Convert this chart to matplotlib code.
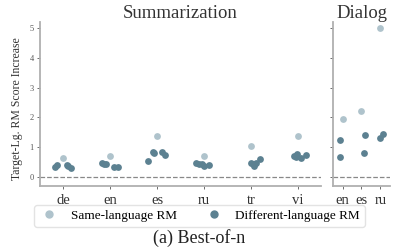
import matplotlib
matplotlib.use("Agg")
import matplotlib.pyplot as plt
from matplotlib.lines import Line2D

plt.rcParams['font.family'] = ['Liberation Serif', 'DejaVu Serif']

# Summarization
sum_langs = ['de', 'en', 'es', 'ru', 'tr', 'vi']
sum_same = [0.64, 0.70, 1.39, 0.70, 1.04, 1.38]
sum_diff = [
    [0.35, 0.40, 0.40, 0.37, 0.29],
    [0.46, 0.45, 0.43, 0.33, 0.33],
    [0.54, 0.85, 0.80, 0.83, 0.74],
    [0.46, 0.44, 0.44, 0.37, 0.40],
    [0.48, 0.44, 0.37, 0.48, 0.59],
    [0.70, 0.66, 0.77, 0.65, 0.74],
]
# Dialog
dia_langs = ['en', 'es', 'ru']
dia_same = [1.95, 2.21, 5.01]
dia_diff = [
    [1.24, 0.66],
    [1.40, 0.79],
    [1.32, 1.44],
]

# horizontal jitter of the different-language points
sum_jit = [
    [-0.17, -0.13, 0.08, 0.11, 0.17],
    [-0.18, -0.13, -0.09, 0.07, 0.16],
    [-0.19, -0.08, -0.06, 0.11, 0.16],
    [-0.16, -0.10, -0.05, 0.00, 0.10],
    [0.00, 0.04, 0.07, 0.12, 0.20],
    [-0.08, -0.04, -0.02, 0.06, 0.18],
]
dia_jit = [
    [-0.16, -0.12],
    [0.17, 0.14],
    [0.00, 0.14],
]

light = '#afc3cc'
dark = '#5c8191'
spine_c = '#b0b0b0'
ms = 24

fig = plt.figure(figsize=(3.99, 2.49), dpi=100)
ax1 = fig.add_axes([0.100, 0.253, 0.705, 0.659])
ax2 = fig.add_axes([0.835, 0.253, 0.142, 0.659])


def draw(ax, langs, same, diff, jit):
    for i in range(len(langs)):
        ax.scatter([i], [same[i]], s=ms, color=light, linewidths=0, zorder=3)
        xs = [i + j for j in jit[i]]
        ax.scatter(xs, diff[i], s=ms, color=dark, linewidths=0, zorder=3)
    ax.axhline(0, color='#888888', linestyle='--', linewidth=0.9, zorder=1)
    ax.set_xticks(range(len(langs)))
    ax.set_xticklabels(langs)
    ax.set_xlim(-0.5, len(langs) - 0.5)
    ax.set_ylim(-0.3, 5.2)
    ax.set_yticks(range(6))
    for s in ['top', 'right']:
        ax.spines[s].set_visible(False)
    for s in ['left', 'bottom']:
        ax.spines[s].set_color(spine_c)
        ax.spines[s].set_linewidth(1.3)
    ax.tick_params(colors='#555555', length=2.5, width=0.6, labelsize=6, pad=2)
    ax.tick_params(axis='x', labelcolor='#333333', labelsize=10.5, pad=3)


draw(ax1, sum_langs, sum_same, sum_diff, sum_jit)
draw(ax2, dia_langs, dia_same, dia_diff, dia_jit)
ax2.set_yticklabels([])

ax1.set_title('Summarization', fontsize=13.5, color='#333333', pad=2)
ax2.set_title('Dialog', fontsize=13.5, color='#333333', pad=2)
ax1.set_ylabel('Target-Lg. RM Score Increase', fontsize=8.5, color='#333333')
ax1.yaxis.set_label_coords(-0.06, 0.47)

handles = [
    Line2D([], [], marker='o', linestyle='', markersize=5, color=light, label='Same-language RM'),
    Line2D([], [], marker='o', linestyle='', markersize=5, color=dark, label='Different-language RM'),
]
fig.legend(handles=handles, loc='center', bbox_to_anchor=(0.5, 0.133), ncol=2,
           fontsize=9.5, frameon=True, edgecolor='#dddddd', columnspacing=2.05,
           handletextpad=0.9, borderpad=0.35, handlelength=1.5)
fig.text(0.5, 0.045, '(a) Best-of-n', ha='center', va='center', fontsize=13, color='#222222')

fig.savefig('out.png', dpi=100)
